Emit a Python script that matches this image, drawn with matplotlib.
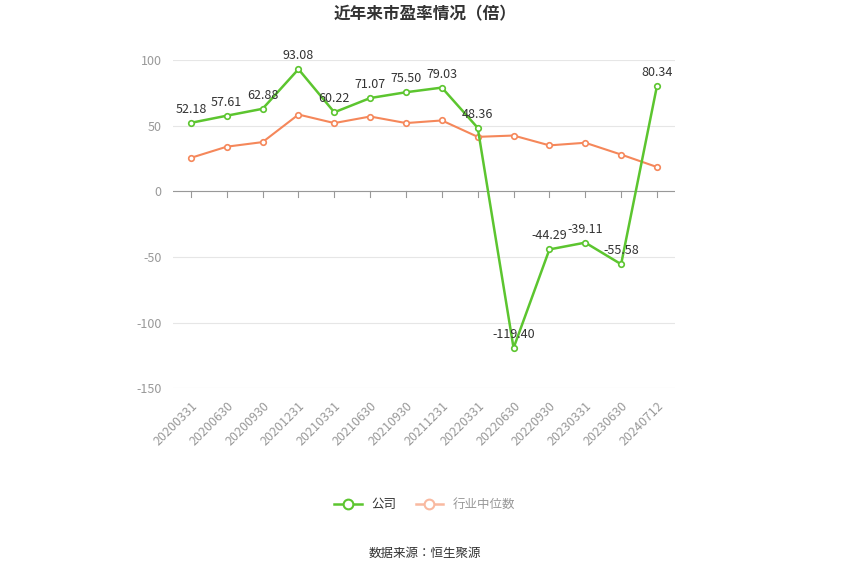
import matplotlib.pyplot as plt
import numpy as np
from matplotlib.lines import Line2D

plt.rcParams['font.family'] = ['Noto Sans CJK JP', 'Noto Sans CJK SC', 'DejaVu Sans']
plt.rcParams['axes.unicode_minus'] = False

dates = ["20200331", "20200630", "20200930", "20201231", "20210331", "20210630", "20210930",
         "20211231", "20220331", "20220630", "20220930", "20230331", "20230630", "20240712"]
company = [52.18, 57.61, 62.88, 93.08, 60.22, 71.07, 75.50, 79.03, 48.36, -119.40, -44.29, -39.11, -55.58, 80.34]
industry = [25.5, 34, 37.5, 58.5, 52, 57, 52, 54, 41.5, 42.5, 35, 37, 28, 18.5]

green = '#5cc52f'
orange = '#f5875a'

fig = plt.figure(figsize=(8.5, 5.75), dpi=100)
ax = fig.add_axes([0.2035, 0.325, 0.5905, 0.5705])
x = np.arange(len(dates))

ax.plot(x, industry, color=orange, lw=1.5, marker='o', ms=4, mfc='white', mew=1.2, zorder=3)
ax.plot(x, company, color=green, lw=1.8, marker='o', ms=4, mfc='white', mew=1.2, zorder=4)
for xi, v in zip(x, company):
    ax.annotate(f"{v:.2f}", (xi, v), xytext=(0, 5), textcoords='offset points',
                ha='center', va='bottom', fontsize=9, color='#333333', zorder=5)

ax.set_xlim(-0.5, len(dates) - 0.5)
ax.set_ylim(-150, 100)
ax.set_yticks([-150, -100, -50, 0, 50, 100])
ax.grid(axis='y', color='#e6e6e6', lw=0.8)
ax.set_axisbelow(True)
for s in ax.spines.values():
    s.set_visible(False)
ax.axhline(0, color='#999999', lw=0.8, zorder=2)
ax.tick_params(axis='y', length=0, labelsize=9, labelcolor='#999999', pad=8)
ax.set_xticks(x)
ax.set_xticklabels(dates, rotation=45, ha='right', rotation_mode='anchor', fontsize=9, color='#999999')
ax.tick_params(axis='x', length=0, pad=8)
for xi in x:
    ax.plot([xi, xi], [0, -4], color='#999999', lw=0.8, zorder=2)

fig.text(0.5, 0.975, "近年来市盈率情况（倍）", ha='center', va='center', fontsize=12,
         fontweight='bold', color='#333333')

handles = [Line2D([], [], color=green, lw=1.8, marker='o', ms=7, mfc='white', mew=1.5),
           Line2D([], [], color='#f9b9a0', lw=1.8, marker='o', ms=7, mfc='white', mew=1.5)]
fig.legend(handles, ["公司", "行业中位数"], loc='center', bbox_to_anchor=(0.5, 0.122), ncol=2,
           frameon=False, fontsize=9, labelcolor=['#333333', '#999999'], handlelength=2.2,
           columnspacing=1.5)
fig.text(0.5, 0.037, "数据来源：恒生聚源", ha='center', va='center', fontsize=9, color='#333333')

fig.savefig('out.png', dpi=100)
